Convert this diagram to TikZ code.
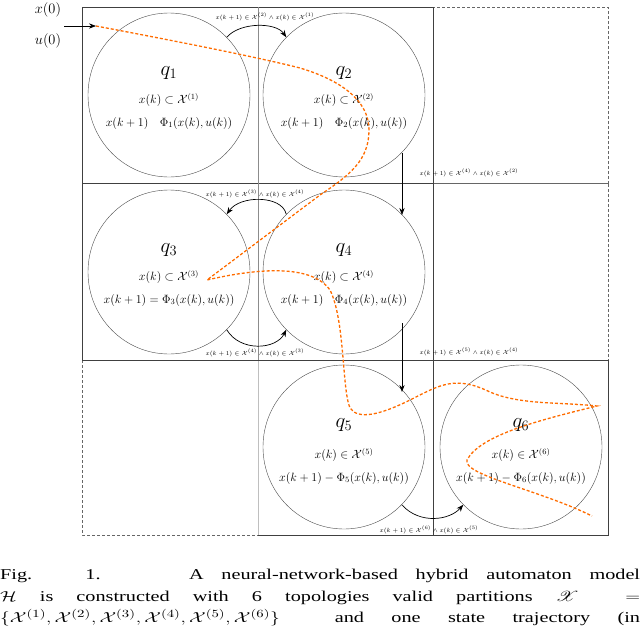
\documentclass[tikz,border=0pt]{standalone}
\usepackage{fontspec}
\setmainfont{Liberation Serif}
\usepackage{amsmath,mathrsfs,graphicx}
\usetikzlibrary{shapes.geometric,arrows.meta}
\begin{document}
\begin{tikzpicture}[x=1pt,y=-1pt,
  st/.style={draw=black!70,thin,ellipse,minimum width=162pt,minimum height=164pt},
  solidbox/.style={draw=black!75,line width=0.6pt},
  dashbox/.style={draw=black!60,densely dashed,line width=0.4pt},
  traj/.style={draw=orange!85!red,line width=1.3pt,dash pattern=on 3pt off 2pt},
  arr/.style={-{Stealth[length=7pt]},line width=0.7pt},
  tlab/.style={font=\fontsize{6}{7}\selectfont,inner sep=0pt},
  ql/.style={font=\fontsize{21}{22}\selectfont,inner sep=0pt},
  el/.style={font=\fontsize{11.5}{12}\selectfont,inner sep=0pt}]
\useasboundingbox (0,0) rectangle (640,629);
% grid
\draw[dashbox] (433,7) rectangle (608,183);
\draw[dashbox] (433,183) rectangle (608,360);
\draw[dashbox] (82,360) rectangle (258,535);
\draw[solidbox] (82,7) rectangle (433,183);
\draw[solidbox] (82,183) rectangle (433,360);
\draw[draw=black!45] (258,7) -- (258,360);
\draw[draw=black!25] (258,360) -- (258,535);
\draw[solidbox] (258,360) -- (608,360) -- (608,535) -- (258,535);
\draw[solidbox] (433,360) -- (433,535);
% states
\node[st] (q1) at (169,95) {};
\node[st] (q2) at (344,95) {};
\node[st] (q3) at (169,272) {};
\node[st] (q4) at (344,272) {};
\node[st] (q5) at (344,447) {};
\node[st] (q6) at (521,447) {};
\foreach \n/\i in {q1/1,q2/2,q3/3,q4/4,q5/5,q6/6}{
  \node[ql] (l\n) at ([yshift=22pt]\n.center) {$q_{\i}$};}
\node[el] (a1) at (169,100) {$x(k)\subset\mathcal{X}^{(1)}$};
\node[el] (b1) at (169,123) {$x(k+1)\quad\Phi_1(x(k),u(k))$};
\node[el] (a2) at (344,100) {$x(k)\subset\mathcal{X}^{(2)}$};
\node[el] (b2) at (344,123) {$x(k+1)\quad\Phi_2(x(k),u(k))$};
\node[el] (a3) at (169,277) {$x(k)\subset\mathcal{X}^{(3)}$};
\node[el] (b3) at (169,300) {$x(k+1)=\Phi_3(x(k),u(k))$};
\node[el] (a4) at (344,277) {$x(k)\subset\mathcal{X}^{(4)}$};
\node[el] (b4) at (344,300) {$x(k+1)\quad\Phi_4(x(k),u(k))$};
\node[el] (a5) at (344,455) {$x(k)\in\mathcal{X}^{(5)}$};
\node[el] (b5) at (344,478) {$x(k+1)-\Phi_5(x(k),u(k))$};
\node[el] (a6) at (521,455) {$x(k)\in\mathcal{X}^{(6)}$};
\node[el] (b6) at (521,478) {$x(k+1)-\Phi_6(x(k),u(k))$};
% transitions
\draw[arr] (q1.45) .. controls (240,22) and (276,22) .. (q2.135);
\node[tlab] (t12) at (265,17) {$x(k+1)\in\mathcal{X}^{(2)}\wedge x(k)\in\mathcal{X}^{(1)}$};
\coordinate (s24) at (402,153);
\coordinate (e24) at (402,215);
\draw[arr] (s24) -- (e24);
\node[tlab] (t24) at (469,173) {$x(k+1)\in\mathcal{X}^{(4)}\wedge x(k)\in\mathcal{X}^{(2)}$};
\draw[arr] (q4.135) .. controls (282,195) and (240,195) .. (q3.45);
\node[tlab] (t43) at (255,194) {$x(k+1)\in\mathcal{X}^{(3)}\wedge x(k)\in\mathcal{X}^{(4)}$};
\draw[arr] (q3.-45) .. controls (240,352) and (276,350) .. (q4.-135);
\node[tlab] (t34) at (255,353) {$x(k+1)\in\mathcal{X}^{(4)}\wedge x(k)\in\mathcal{X}^{(3)}$};
\coordinate (s45) at (402,323);
\coordinate (e45) at (402,392);
\draw[arr] (s45) -- (e45);
\node[tlab] (t45) at (469,352) {$x(k+1)\in\mathcal{X}^{(5)}\wedge x(k)\in\mathcal{X}^{(4)}$};
\draw[arr] (q5.-45) .. controls (420,525) and (450,520) .. (q6.-135);
\node[tlab] (t56) at (429,530) {$x(k+1)\in\mathcal{X}^{(6)}\wedge x(k)\in\mathcal{X}^{(5)}$};
% initial
\node[font=\fontsize{14}{15}\selectfont,inner sep=0pt] (x0) at (48,10) {$x(0)$};
\node[font=\fontsize{14}{15}\selectfont,inner sep=0pt] (u0) at (48,41) {$u(0)$};
\coordinate (in0) at (64,26);
\coordinate (tr0) at (96,26);
\draw[arr] (in0) -- (tr0);
% trajectory
\draw[traj] (tr0) .. controls (170,40) and (257,57) .. (300,68)
  .. controls (340,80) and (369,100) .. (369,130)
  .. controls (369,160) and (350,175) .. (320,195)
  -- (207,280)
  .. controls (250,270) and (310,262) .. (330,290)
  .. controls (345,320) and (342,390) .. (350,408)
  .. controls (358,420) and (380,415) .. (410,400)
  .. controls (440,385) and (455,375) .. (490,392)
  .. controls (520,405) and (560,402) .. (597,406)
  .. controls (540,420) and (480,435) .. (467,460)
  .. controls (462,475) and (540,490) .. (592,516);
% caption
\node[anchor=north west,inner sep=0pt] (cap) at (0,569)
 {\scalebox{1.35}[1]{\parbox[t]{474pt}{\fontsize{15}{21.5}\selectfont\noindent
  Fig.\ \ \ 1.\ \ \ \ \ A neural-network-based hybrid automaton model\linebreak
  $\mathcal{H}$ is constructed with 6 topologies valid partitions
  $\mathscr{X}$ \ $=$\linebreak
  $\{\mathcal{X}^{(1)},\mathcal{X}^{(2)},\mathcal{X}^{(3)},\mathcal{X}^{(4)},\mathcal{X}^{(5)},\mathcal{X}^{(6)}\}$
  \ and one state trajectory (in\parfillskip=0pt\par}}};
\end{tikzpicture}
\end{document}
